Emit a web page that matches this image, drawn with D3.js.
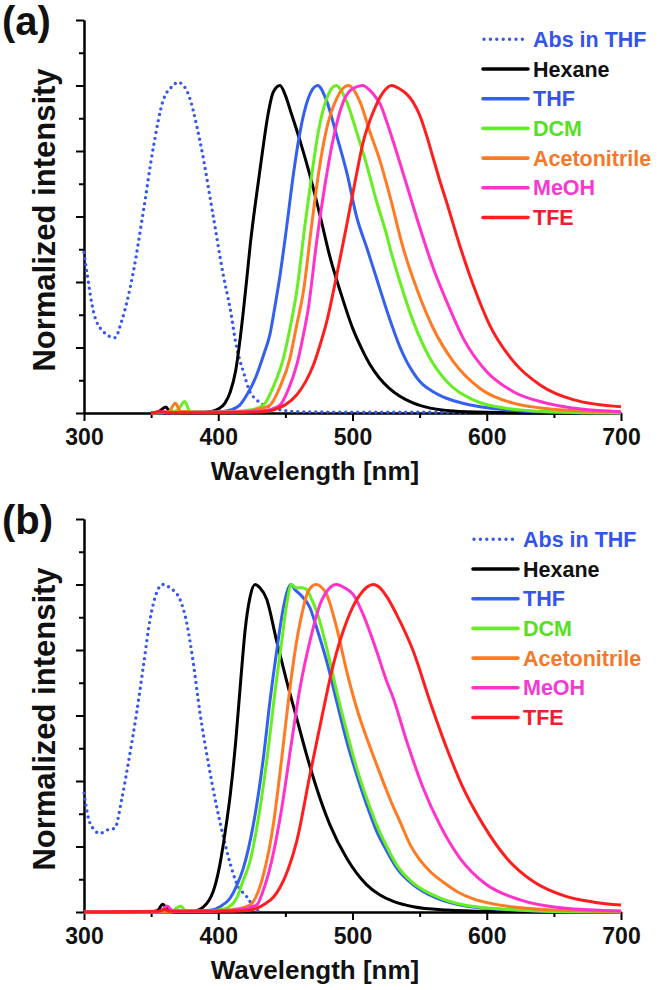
<!DOCTYPE html>
<meta charset="utf-8">
<style>
  body { margin: 0; background: #fff; }
  svg { display: block; }
  text { font-family: Arial, "Liberation Sans", sans-serif; font-weight: bold; }
</style>
<script src="https://cdnjs.cloudflare.com/ajax/libs/d3/7.8.5/d3.min.js"></script>
<body>
<div id="chart"></div>
<script>
// ---- data: [wavelength nm, normalized intensity] ----
var seriesNames = ["Abs in THF", "Hexane", "THF", "DCM", "Acetonitrile", "MeOH", "TFE"];
var lineColors  = ["#3557ee", "#000000", "#3460ee", "#66ee22", "#ff7a22", "#ff33cc", "#ff1e1e"];
var textColors  = ["#3454ea", "#111111", "#3454ea", "#55e022", "#f5782a", "#f43ad0", "#f01c30"];
var xTicks = [300, 400, 500, 600, 700];

// panel (a)
var absA = [[300,0.49],[302.5,0.42],[307,0.31],[314,0.25],[323,0.23],[328,0.28],[336.7,0.43],[344,0.61],[351.6,0.81],[359,0.955],[366.5,1.0],[370,1.01],[376.5,0.985],[386.4,0.83],[396.3,0.6],[403.8,0.42],[408.8,0.32],[413.7,0.2],[418.7,0.126],[423.6,0.065],[428.6,0.04],[441,0.015],[455,0.005],[470,0.003],[585,0.002]];
var hexA = [[350,0],[355,0.003],[361,0.018],[364,0.005],[370,0.003],[385,0.002],[395,0.005],[400,0.012],[405,0.03],[409,0.065],[413,0.13],[417,0.25],[421,0.4],[424,0.52],[427,0.62],[430,0.71],[433,0.8],[437,0.91],[441,0.98],[446,1.0],[450,0.97],[454,0.92],[461,0.83],[468,0.73],[476,0.6],[483,0.48],[491,0.37],[500,0.26],[507,0.195],[513,0.148],[520,0.107],[527,0.077],[535,0.052],[545,0.031],[558,0.015],[575,0.006],[600,0.002],[650,0],[700,0]];
var thfA = [[350,0],[380,0.002],[400,0.003],[410,0.01],[416,0.024],[422,0.06],[428,0.11],[434,0.18],[438.5,0.24],[442,0.32],[446,0.42],[451,0.57],[456,0.73],[461,0.86],[467,0.96],[474,1.0],[481,0.95],[488,0.85],[496,0.73],[503,0.6],[511,0.5],[518,0.41],[525,0.32],[530,0.26],[535,0.205],[540,0.16],[545,0.125],[550,0.097],[560,0.065],[570,0.045],[582,0.03],[595,0.019],[620,0.008],[650,0.002],[700,0]];
var dcmA = [[350,0],[365,0.003],[370,0.01],[375,0.035],[379,0.005],[390,0.002],[410,0.004],[425,0.01],[433.6,0.024],[441,0.08],[448.5,0.167],[454,0.27],[458.4,0.37],[464.6,0.574],[469.6,0.726],[474.5,0.858],[480.8,0.96],[487.7,1.0],[495.7,0.95],[503.1,0.858],[510.6,0.757],[518,0.645],[525.5,0.543],[528,0.503],[535.4,0.4],[545.3,0.279],[557.7,0.167],[570.2,0.096],[590,0.04],[615,0.014],[640,0.005],[670,0.001],[700,0]];
var acnA = [[350,0],[363,0.003],[368,0.03],[372,0.005],[390,0.002],[420,0.005],[430,0.012],[438.5,0.024],[446,0.08],[453.4,0.167],[458,0.26],[463.4,0.37],[469.6,0.574],[474.5,0.726],[480.8,0.869],[488.2,0.96],[496.9,1.0],[505.6,0.95],[513,0.858],[520.5,0.77],[528,0.66],[537.8,0.503],[547.8,0.38],[560.2,0.258],[575.1,0.157],[595,0.075],[619.8,0.03],[657,0.009],[700,0.003]];
var meohA = [[350,0],[360,0.004],[364,0.001],[400,0.002],[430,0.006],[440,0.012],[446,0.024],[452,0.07],[458.4,0.146],[463,0.23],[467.1,0.32],[473.3,0.523],[479.5,0.696],[485.7,0.838],[493.1,0.95],[500,0.99],[507.5,1.0],[513,0.985],[518,0.96],[521,0.94],[525.5,0.889],[530.4,0.828],[540.4,0.696],[550.3,0.564],[560.2,0.442],[570.2,0.34],[582.5,0.228],[600,0.126],[619.8,0.065],[644.7,0.03],[670,0.012],[700,0.004]];
var tfeA = [[350,0],[358,0.004],[362,0.001],[400,0.001],[430,0.003],[441,0.009],[450,0.025],[458.4,0.055],[465,0.095],[470.8,0.146],[476,0.21],[480.8,0.279],[488.2,0.42],[495.7,0.574],[501.9,0.706],[508,0.828],[515.5,0.92],[523,0.98],[529.2,1.0],[535,0.99],[540,0.975],[545,0.95],[550,0.91],[555,0.85],[560,0.78],[565,0.71],[570,0.645],[580,0.51],[590,0.39],[602,0.27],[620,0.157],[640,0.085],[665,0.04],[700,0.019]];

// panel (b)
var absB = [[300,0.363],[304.5,0.271],[311.9,0.24],[316.9,0.25],[323,0.256],[328,0.342],[333,0.455],[339.2,0.608],[344.2,0.75],[349.2,0.893],[354.1,0.975],[358.6,1.0],[364,0.99],[371.5,0.954],[376.5,0.883],[381.4,0.761],[386.4,0.608],[392.6,0.455],[398.8,0.322],[403.8,0.23],[408.8,0.149],[413.7,0.088],[421.2,0.047],[428.6,0.006],[432,0.002]];
var hexB = [[300,0],[350,0],[355,0.005],[358.6,0.024],[362,0.01],[366,0.002],[380,0.002],[385,0.006],[389,0.016],[393,0.035],[396,0.06],[401,0.14],[405,0.24],[409,0.36],[413,0.52],[417,0.72],[420,0.86],[423.6,0.96],[427.4,1.0],[431,0.99],[436.1,0.955],[443.5,0.827],[451,0.704],[458.4,0.592],[465.8,0.48],[473.3,0.378],[483.2,0.266],[495.7,0.164],[510.6,0.083],[520.5,0.052],[530,0.033],[545.3,0.016],[570,0.006],[600,0.002],[700,0]];
var thfB = [[300,0],[350,0],[380,0.002],[395,0.006],[401.3,0.016],[408.8,0.042],[413.7,0.08],[418.7,0.134],[426.1,0.266],[433.6,0.47],[438.5,0.643],[443.5,0.796],[448.5,0.929],[454.2,1.0],[457,0.985],[460.9,0.97],[468.3,0.929],[473.3,0.868],[480.8,0.765],[488.2,0.643],[495.7,0.521],[503.1,0.419],[510.6,0.327],[518,0.246],[525,0.19],[533,0.134],[545.3,0.083],[562.7,0.042],[582,0.02],[620,0.006],[660,0.001],[700,0]];
var dcmB = [[300,0],[365,0],[369,0.012],[372,0.018],[376,0.003],[390,0.002],[405,0.01],[413.7,0.042],[418,0.09],[423.6,0.154],[431.1,0.317],[437.3,0.5],[442.3,0.674],[447.3,0.827],[451,0.94],[454.5,1.0],[458,0.99],[462.2,0.99],[465.8,0.985],[469,0.96],[473.3,0.918],[480.8,0.806],[488.2,0.674],[495.7,0.551],[503.1,0.44],[510.6,0.347],[518,0.266],[525.5,0.2],[532.9,0.144],[545.3,0.088],[562.7,0.047],[585,0.02],[620,0.007],[660,0.001],[700,0]];
var acnB = [[300,0],[380,0.002],[400,0.004],[415,0.01],[423.6,0.021],[433.6,0.113],[441,0.266],[447.3,0.47],[452.2,0.643],[457.2,0.796],[462.2,0.908],[467.1,0.98],[472.8,1.0],[476,0.995],[480.8,0.969],[488.2,0.868],[495.7,0.735],[503.1,0.623],[510.6,0.531],[518,0.45],[525,0.375],[530,0.325],[536,0.27],[543,0.205],[550,0.16],[558,0.123],[568,0.09],[578,0.062],[590,0.04],[602,0.027],[620,0.015],[645,0.007],[700,0.002]];
var meohB = [[300,0],[355,0],[358,0.005],[362,0.018],[366,0.004],[380,0.002],[410,0.005],[420,0.01],[428.6,0.021],[433,0.06],[438.5,0.134],[447.3,0.317],[454.7,0.521],[460.9,0.684],[468.3,0.827],[475.8,0.939],[482,0.985],[488.2,1.0],[494,0.99],[500.6,0.969],[508,0.908],[518,0.796],[525.5,0.704],[530.4,0.653],[540.4,0.521],[552.7,0.378],[565.1,0.266],[580.1,0.164],[600,0.083],[624.8,0.037],[657,0.012],[700,0.003]];
var tfeB = [[300,0],[355,0.002],[360,0.008],[364,0.002],[400,0.002],[420,0.004],[428.6,0.011],[435,0.025],[441,0.045],[446,0.075],[452,0.13],[458.4,0.215],[468.3,0.419],[477,0.592],[485.7,0.755],[495.7,0.888],[505.6,0.969],[515.5,1.0],[520.5,0.99],[526,0.96],[532.9,0.908],[545.3,0.796],[557.7,0.643],[570.2,0.5],[582.5,0.378],[597.4,0.266],[614.9,0.164],[634.7,0.093],[659.6,0.047],[680,0.03],[700,0.021]];

var W = 658, H = 990;
var svg = d3.select("#chart").append("svg").attr("width", W).attr("height", H);

var x = d3.scaleLinear().domain([300, 700]).range([84, 621]);

function panel(label, top, data, legX, legY, titleX) {
  var y = d3.scaleLinear().domain([0, 1.2]).range([top + 393, top]);
  var g = svg.append("g");

  // axes: minor ticks first, then major with labels
  var yMinor = d3.axisLeft(y).tickValues(d3.range(0.1, 1.2, 0.2)).tickSize(5).tickFormat("").tickSizeOuter(0);
  var yMajor = d3.axisLeft(y).tickValues(d3.range(0, 1.21, 0.2)).tickSize(8).tickFormat("").tickSizeOuter(0);
  var xMinor = d3.axisBottom(x).tickValues([350, 450, 550, 650]).tickSize(5).tickFormat("").tickSizeOuter(0);
  var xMajor = d3.axisBottom(x).tickValues(xTicks).tickSize(8).tickSizeOuter(0).tickFormat(d3.format("d"));

  [yMinor, yMajor].forEach(function (a) {
    g.append("g").attr("transform", "translate(84,0)").call(a);
  });
  [xMinor, xMajor].forEach(function (a) {
    g.append("g").attr("class", "xax").attr("transform", "translate(0," + (top + 393) + ")").call(a);
  });
  g.selectAll(".domain").attr("stroke", "#000").attr("stroke-width", 2);
  g.selectAll(".tick line").attr("stroke", "#000").attr("stroke-width", 2);
  g.selectAll(".xax .tick text")
    .attr("y", 32).attr("dy", null)
    .attr("font-size", 23).attr("fill", "#111")
    .style("font-weight", "bold");

  var line = d3.line()
    .x(function (d) { return x(d[0]); })
    .y(function (d) { return y(d[1]); })
    .curve(d3.curveMonotoneX);

  data.forEach(function (s, i) {
    var p = g.append("path").datum(s)
      .attr("d", line)
      .attr("fill", "none")
      .attr("stroke", lineColors[i])
      .attr("stroke-linejoin", "round");
    if (i === 0) {
      p.attr("stroke-width", 3.4).attr("stroke-dasharray", "0 6").attr("stroke-linecap", "round");
    } else {
      p.attr("stroke-width", 3);
    }
  });

  // axis titles
  g.append("text").attr("x", titleX).attr("y", top + 460)
    .attr("text-anchor", "middle").attr("font-size", 26).attr("fill", "#111")
    .text("Wavelength [nm]");
  g.append("text")
    .attr("transform", "translate(55," + (top + 200) + ") rotate(-90)")
    .attr("text-anchor", "middle").attr("font-size", 31).attr("fill", "#111")
    .text("Normalized intensity");

  // panel label
  g.append("text").attr("x", 2).attr("y", top + 15).attr("font-size", 40).attr("fill", "#111").text(label);

  // legend
  seriesNames.forEach(function (name, i) {
    var yy = legY + i * 29.7;
    var l = g.append("line")
      .attr("x1", legX).attr("x2", legX + 45)
      .attr("y1", yy).attr("y2", yy)
      .attr("stroke", lineColors[i]);
    if (i === 0) {
      l.attr("stroke-width", 3.4).attr("stroke-dasharray", "0 6.4").attr("stroke-linecap", "round")
        .attr("x1", legX + 1);
    } else {
      l.attr("stroke-width", 3.6).attr("stroke-linecap", "round");
    }
    g.append("text").attr("x", legX + 50).attr("y", yy + 7.6)
      .attr("font-size", 21.5).attr("fill", textColors[i]).text(name);
  });
}

panel("(a)", 20, [absA, hexA, thfA, dcmA, acnA, meohA, tfeA], 483, 39.3, 315);
panel("(b)", 519, [absB, hexB, thfB, dcmB, acnB, meohB, tfeB], 473, 539.3, 315);
</script>
</body>
